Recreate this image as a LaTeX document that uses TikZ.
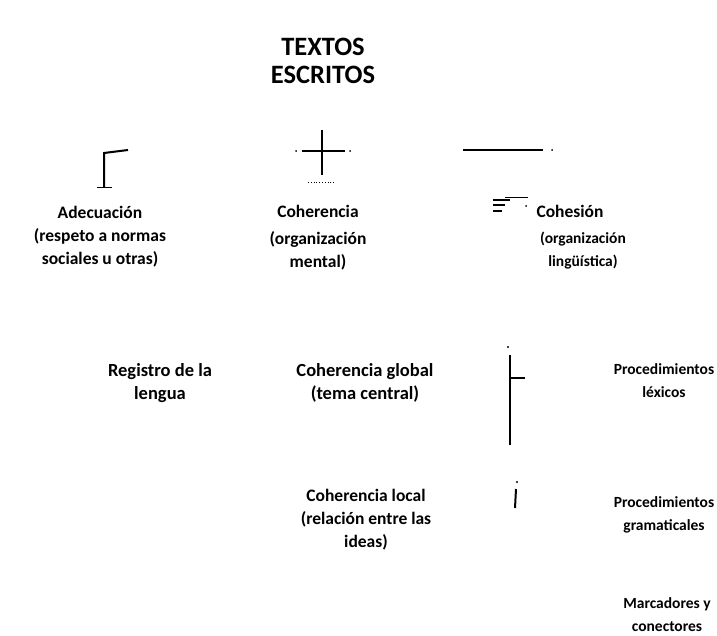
\documentclass[tikz,border=0pt]{standalone}
\usepackage{fontspec}
\setmainfont{Carlito}
\begin{document}
\begin{tikzpicture}[x = 1pt, y = -1pt, every node/.style = {font = \bfseries\fontsize{17.5}{23}\selectfont, align = center, inner sep = 0}, small/.style = {font = \bfseries\fontsize{15.5}{23}\selectfont}]
\useasboundingbox (0, 0) rectangle (717, 636);
\node [font = \bfseries\fontsize{26.5}{28}\selectfont] (textos) at (323, 61) {TEXTOS\\ESCRITOS};
\node (adecuacion) at (100, 237) {Adecuación\\(respeto a normas\\sociales u otras)};
\node (coherencia) at (318, 211) {Coherencia};
\node (coherenciasub) at (318, 251) {(organización\\mental)};
\node (cohesion) at (570, 211) {Cohesión};
\node [small] (cohesionsub) at (583, 251) {(organización\\lingüística)};
\node [font = \bfseries\fontsize{18.5}{23}\selectfont] (registro) at (160, 383) {Registro de la\\lengua};
\node [font = \bfseries\fontsize{18.5}{23}\selectfont] (global) at (365, 383) {Coherencia global\\(tema central)};
\node [small] (lexicos) at (664, 381) {Procedimientos\\léxicos};
\node (local) at (366, 520) {Coherencia local\\(relación entre las\\ideas)};
\node [small] (gramaticales) at (664, 515) {Procedimientos\\gramaticales};
\node [small] (marcadores) at (667, 615) {Marcadores y\\conectores};
\draw [line width = 2] (104, 188) -- (104, 153) -- (128, 150);
\draw [line width = 1] (97, 188) -- (112, 188);
\draw [line width = 2.2] (322, 130) -- (322, 175);
\draw [line width = 2.2] (302, 151) -- (345, 151);
\fill (296, 151) circle (1) (350, 151) circle (1);
\draw [line width = 0.8, dotted] (308, 182) -- (335, 182);
\draw [line width = 1.6] (463, 150) -- (543, 150);
\fill (552, 150) circle (1);
\draw [line width = 1.5] (493, 200) -- (510, 200) (493, 205) -- (505, 205) (493, 211) -- (502, 211);
\draw [line width = 0.6] (505, 197) -- (528, 197);
\fill (526, 206) circle (1);
\draw [line width = 2.5] (510, 355) -- (510, 445);
\draw [line width = 1.5] (510, 378) -- (525, 378);
\fill (508, 347) circle (1.2);
\draw [line width = 2] (516, 489) -- (515, 508);
\fill (517, 482) circle (1.2);
\end{tikzpicture}
\end{document}
